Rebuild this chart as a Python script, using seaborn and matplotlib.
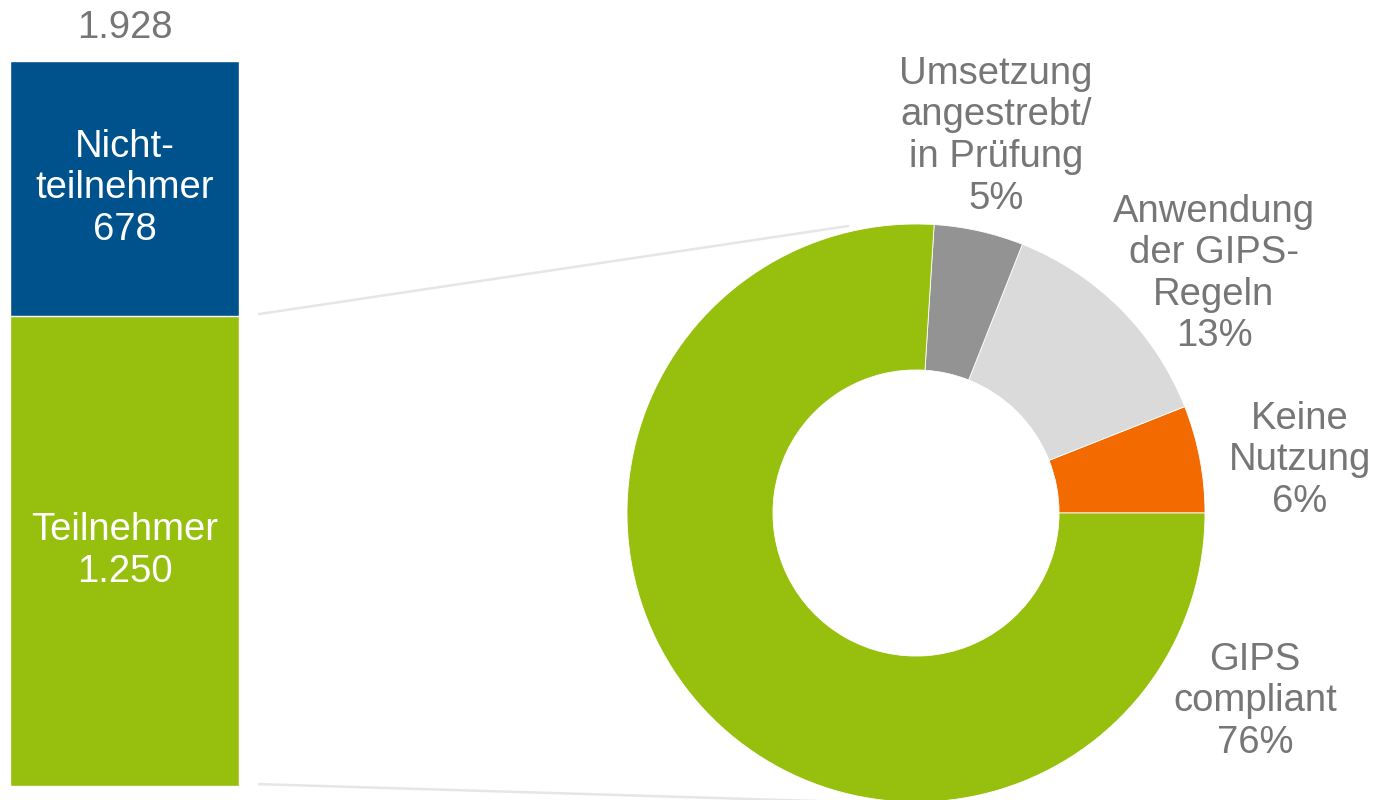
import numpy as np
import pandas as pd
import seaborn as sns
import matplotlib.pyplot as plt
from matplotlib.patches import ConnectionPatch

# bar data (left)
bar_groups = ["Teilnehmer", "Nicht-\nteilnehmer"]
bar_values = [1250, 678]
total_label = "1.928"
bar_texts = ["Teilnehmer\n1.250", "Nicht-\nteilnehmer\n678"]

# donut data (right), counterclockwise from 3 o'clock
donut_labels = ["Keine\nNutzung", "Anwendung\nder GIPS-\nRegeln",
                "Umsetzung\nangestrebt/\nin Prüfung", "GIPS\ncompliant"]
donut_values = [6, 13, 5, 76]

GREEN = "#97BF0D"
BLUE = "#00528C"
ORANGE = "#F36B00"
DGRAY = "#939393"
LGRAY = "#DADADA"
TXT = "#767676"
donut_colors = [ORANGE, LGRAY, DGRAY, GREEN]

FS = 27.5
LS = 1.2

sns.set_style("white")
plt.rcParams["font.family"] = ["Liberation Sans", "DejaVu Sans"]

fig = plt.figure(figsize=(13.76, 8), dpi=100)

# stacked bar
ax_bar = fig.add_axes([10 / 1376, 14 / 800, 229 / 1376, 725 / 800])
total = sum(bar_values)
df_total = pd.DataFrame({"g": ["all"], "v": [total]})
df_part = pd.DataFrame({"g": ["all"], "v": [bar_values[0]]})
sns.barplot(data=df_total, x="g", y="v", color=BLUE, width=1,
            saturation=1, errorbar=None, ax=ax_bar)
sns.barplot(data=df_part, x="g", y="v", color=GREEN, width=1,
            saturation=1, errorbar=None, ax=ax_bar)
ax_bar.set_xlim(-0.5, 0.5)
ax_bar.set_ylim(0, total)
ax_bar.axis("off")

ax_bar.text(0, bar_values[0] / 2, bar_texts[0], ha="center", va="center",
            color="white", fontsize=FS, linespacing=LS)
ax_bar.text(0, bar_values[0] + bar_values[1] / 2, bar_texts[1], ha="center",
            va="center", color="white", fontsize=FS, linespacing=LS)
ax_bar.annotate(total_label, (0, total), xytext=(0, 33), textcoords="offset pixels",
                ha="center", va="center", color=TXT, fontsize=FS,
                annotation_clip=False)

# donut
R = 289
cx, cy = 916, 513
ax_pie = fig.add_axes([(cx - R) / 1376, (800 - cy - R) / 800,
                       2 * R / 1376, 2 * R / 800])
ax_pie.pie(donut_values, colors=donut_colors, startangle=0, counterclock=True,
           radius=1, wedgeprops=dict(width=0.505, edgecolor="white", linewidth=0.6))
ax_pie.set_xlim(-1, 1)
ax_pie.set_ylim(-1, 1)
ax_pie.set_aspect("auto")
ax_pie.axis("off")

label_pos = [(1.329, 0.183), (1.031, 0.827), (0.277, 1.304), (1.173, -0.651)]
for lab, val, (lx, ly) in zip(donut_labels, donut_values, label_pos):
    ax_pie.text(lx, ly, f"{lab}\n{val}%", ha="center", va="center", color=TXT,
                fontsize=FS, linespacing=LS, clip_on=False)

# connector lines from bar to donut
for y_bar, y_pie in [(bar_values[0] + 5, 0.993), (5, -1.0)]:
    con = ConnectionPatch(xyA=(0.587, y_bar), coordsA=ax_bar.transData,
                          xyB=(-0.235, y_pie), coordsB=ax_pie.transData,
                          color="#E6E6E6", linewidth=1.8)
    fig.add_artist(con)

fig.savefig("out.png", dpi=100, facecolor="white")
